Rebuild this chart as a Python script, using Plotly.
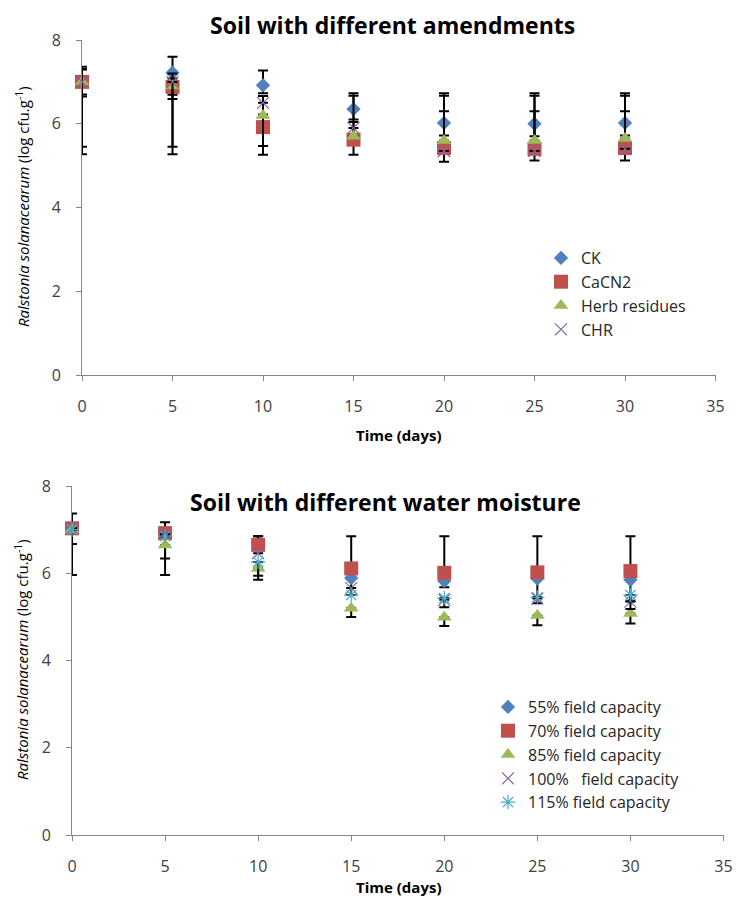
import plotly.graph_objects as go

W, H = 736, 899

# ---------------- data: top chart ----------------
days = [0, 5, 10, 15, 20, 25, 30]

ck = [7.0, 7.22, 6.92, 6.35, 6.02, 6.0, 6.02]
ck_plus = [0.36, 0.38, 0.35, 0.38, 0.71, 0.73, 0.71]
ck_minus = [0.35, 0.53, 0.19, 0.25, 0.3, 0.3, 0.3]

cacn2 = [7.0, 6.88, 5.92, 5.62, 5.42, 5.4, 5.42]
cacn2_plus = [0.3, 0.2, 0.3, 0.42, 0.88, 0.9, 0.88]
cacn2_minus = [1.73, 1.61, 0.66, 0.36, 0.33, 0.28, 0.3]

herb = [7.0, 6.9, 6.2, 5.7, 5.6, 5.6, 5.65]
herb_plus = [0.3, 0.3, 0.46, 0.97, 1.07, 1.07, 1.02]
herb_minus = [0.3, 0.31, 0.73, 0.0, 0.0, 0.0, 0.0]

chr_ = [7.0, 7.0, 6.5, 5.9, 5.35, 5.35, 5.4]
chr_plus = [0.3, 0.0, 0.0, 0.0, 0.0, 0.0, 0.0]
chr_minus = [1.55, 1.55, 0.0, 0.0, 0.0, 0.0, 0.0]

# ---------------- data: bottom chart ----------------
fc55 = [7.03, 6.92, 6.7, 5.89, 5.82, 5.88, 5.85]
fc55_plus = [0.0, 0.0, 0.15, 0.0, 0.0, 0.0, 0.0]
fc55_minus = [0.0, 0.0, 0.0, 0.39, 0.14, 0.57, 0.49]

fc70 = [7.03, 6.92, 6.65, 6.11, 6.01, 6.02, 6.05]
fc70_plus = [0.34, 0.25, 0.2, 0.74, 0.84, 0.83, 0.8]
fc70_minus = [1.07, 0.96, 0.0, 0.0, 0.0, 0.0, 0.0]

fc85 = [7.0, 6.65, 6.11, 5.2, 4.99, 5.03, 5.08]
fc85_plus = [0.0, 0.0, 0.0, 0.0, 0.0, 0.0, 0.0]
fc85_minus = [0.33, 0.31, 0.26, 0.2, 0.2, 0.22, 0.23]

fc100 = [7.03, 6.9, 6.46, 5.66, 5.39, 5.42, 5.35]

fc115 = [7.0, 6.85, 6.26, 5.5, 5.43, 5.45, 5.5]
fc115_plus = [0.0, 0.0, 0.0, 0.0, 0.0, 0.0, 0.0]
fc115_minus = [0.0, 0.0, 0.32, 0.0, 0.21, 0.0, 0.32]

top_names = ["CK", "CaCN2", "Herb residues", "CHR"]
bot_names = ["55% field capacity", "70% field capacity", "85% field capacity",
             "100%\u00a0\u00a0 field capacity", "115% field capacity"]
x_ticks = [0, 5, 10, 15, 20, 25, 30, 35]
y_ticks = [0, 2, 4, 6, 8]

BLUE, RED, GREEN, PURPLE, CYAN = "#4F81BD", "#C0504D", "#9BBB59", "#8064A2", "#4BACC6"
FONT = "'Open Sans', 'Liberation Sans', sans-serif"


def px(x):
    return x / W


def py(y):
    return 1 - y / H


def err(plus, minus):
    return dict(type="data", symmetric=False, array=plus, arrayminus=minus,
                color="black", thickness=2, width=5)


markers = {
    "diamond": dict(symbol="diamond", size=11),
    "square": dict(symbol="square", size=14),
    "triangle": dict(symbol="triangle-up", size=13),
    "x": dict(symbol="x-thin", size=12),
    "star": dict(symbol="asterisk", size=12),
}

fig = go.Figure()


def add_series(names, series, xa, ya, leg):
    for name, (yv, pl, mi, mk, col) in zip(names, series):
        m = dict(markers[mk])
        if mk in ("x", "star"):
            m.update(color=col, line=dict(color=col, width=1.2))
        else:
            m.update(color=col, line=dict(width=0))
        fig.add_trace(go.Scatter(x=days, y=yv, mode="markers", name=name, marker=m,
                                 error_y=err(pl, mi), xaxis=xa, yaxis=ya,
                                 legend=leg, cliponaxis=False))


top_series = [
    (ck, ck_plus, ck_minus, "diamond", BLUE),
    (cacn2, cacn2_plus, cacn2_minus, "square", RED),
    (herb, herb_plus, herb_minus, "triangle", GREEN),
    (chr_, chr_plus, chr_minus, "x", PURPLE),
]
add_series(top_names, top_series, "x", "y", "legend")

zeros = [0.0] * len(days)
bot_series = [
    (fc55, fc55_plus, fc55_minus, "diamond", BLUE),
    (fc70, fc70_plus, fc70_minus, "square", RED),
    (fc85, fc85_plus, fc85_minus, "triangle", GREEN),
    (fc100, zeros, zeros, "x", PURPLE),
    (fc115, fc115_plus, fc115_minus, "star", CYAN),
]
add_series(bot_names, bot_series, "x2", "y2", "legend2")

AX = "#868686"
TICKF = dict(family=FONT, size=16, color="#404040")


def xax(domain, anchor):
    return dict(domain=domain, anchor=anchor, range=[0, 35], tickvals=x_ticks,
                showline=True, linecolor=AX, linewidth=1, ticks="outside", ticklen=5,
                tickcolor=AX, showgrid=False, zeroline=False, tickfont=TICKF,
                ticklabelstandoff=12, automargin=False, fixedrange=True)


def yax(domain, anchor):
    return dict(domain=domain, anchor=anchor, range=[0, 8], tickvals=y_ticks,
                showline=True, linecolor=AX, linewidth=1, ticks="outside", ticklen=5,
                tickcolor=AX, showgrid=False, zeroline=False, tickfont=TICKF,
                ticklabelstandoff=12, automargin=False, fixedrange=True)


ytitle = "<i>Ralstonia solanacearum</i> (log cfu.g<sup>-1</sup>)"


def ann(text, x, y, size, angle=0):
    return dict(text=text, x=px(x), y=py(y), xref="paper", yref="paper",
                xanchor="center", yanchor="middle", textangle=angle, showarrow=False,
                font=dict(family=FONT, size=size, color="black"))


annotations = [
    ann("<b>Soil with different amendments</b>", 393, 25, 23),
    ann("<b>Soil with different water moisture</b>", 385, 502, 23),
    ann("<b>Time (days)</b>", 398, 435, 15),
    ann("<b>Time (days)</b>", 398, 887, 15),
    ann(ytitle, 22, 207, 15, -90),
    ann(ytitle, 21, 660, 15, -90),
]

LEGF = dict(family=FONT, size=16, color="#262626")

fig.update_layout(
    width=W, height=H, margin=dict(l=0, r=0, t=0, b=0, pad=0, autoexpand=False),
    paper_bgcolor="white", plot_bgcolor="white",
    xaxis=xax([px(82), px(715.5)], "y"),
    yaxis=yax([py(375), py(40)], "x"),
    xaxis2=xax([px(72), px(723.5)], "y2"),
    yaxis2=yax([py(835), py(486)], "x2"),
    legend=dict(x=px(541), y=py(241), xanchor="left", yanchor="top", font=LEGF,
                bgcolor="rgba(0,0,0,0)", tracegroupgap=0, itemwidth=30),
    legend2=dict(x=px(488), y=py(690), xanchor="left", yanchor="top", font=LEGF,
                 bgcolor="rgba(0,0,0,0)", tracegroupgap=0, itemwidth=30),
    annotations=annotations,
    showlegend=True,
)

fig.write_html("out.html")
